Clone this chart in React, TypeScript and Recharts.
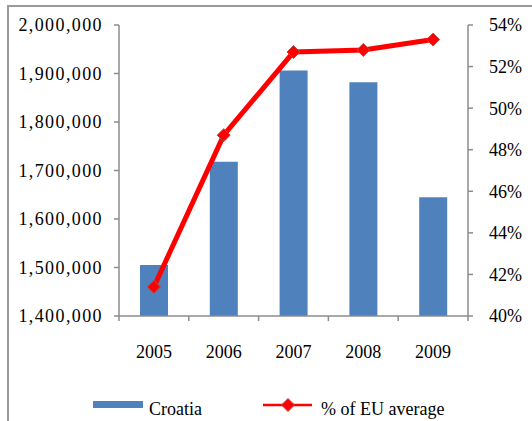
import { ComposedChart, Bar, Line, XAxis, YAxis, Legend } from "recharts";

const years = ["2005", "2006", "2007", "2008", "2009"];
const croatia = [1505000, 1718000, 1906000, 1882000, 1645000];
const euShare = [41.4, 48.7, 52.7, 52.8, 53.3];
const leftTicks = [1400000, 1500000, 1600000, 1700000, 1800000, 1900000, 2000000];
const rightTicks = [40, 42, 44, 46, 48, 50, 52, 54];

const data = years.map((year, i) => ({ year, croatia: croatia[i], share: euShare[i] }));

const W = 532;
const H = 421;
const LEFT_W = 119;
const RIGHT_W = 64;
const BAND = (W - LEFT_W - RIGHT_W) / years.length;
const FONT = "Liberation Serif, DejaVu Serif, serif";
const AXIS = "#8c8c8c";

const Diamond = (props: any) => {
  const { cx, cy } = props;
  if (cx == null || cy == null) return null;
  const r = 6.5;
  return (
    <polygon
      points={`${cx},${cy - r} ${cx + r},${cy} ${cx},${cy + r} ${cx - r},${cy}`}
      fill="#ff0000"
      stroke="#b94a48"
      strokeWidth={1}
    />
  );
};

const YearTick = (props: any) => {
  const { x, y, payload, index } = props;
  const top = y - 29;
  return (
    <g>
      <line x1={x - BAND / 2} x2={x - BAND / 2} y1={top} y2={top + 5} stroke={AXIS} strokeWidth={1.5} />
      {index === years.length - 1 && (
        <line x1={x + BAND / 2} x2={x + BAND / 2} y1={top} y2={top + 5} stroke={AXIS} strokeWidth={1.5} />
      )}
      <text x={x} y={y} dy="0.71em" textAnchor="middle" fill="#000" fontSize={18} style={{ fontFamily: FONT }}>
        {payload.value}
      </text>
    </g>
  );
};

const LegendBox = () => (
  <svg width={W} height={30} style={{ display: "block", fontFamily: FONT }}>
    <rect x={93} y={9} width={50} height={7} fill="#4f81bd" />
    <text x={149} y={23} fontSize={18} fill="#000">
      Croatia
    </text>
    <line x1={263} x2={312} y1={13} y2={13} stroke="#ff0000" strokeWidth={2.5} />
    <Diamond cx={288} cy={13} />
    <text x={321} y={23} fontSize={18} fill="#000">
      % of EU average
    </text>
  </svg>
);

const App = () => {
  const tickStyle = { fill: "#000", fontSize: 18, style: { fontFamily: FONT } };
  const leftTickStyle = { fill: "#000", fontSize: 18, style: { fontFamily: FONT, letterSpacing: "1.4px" } };
  return (
    <div
      style={{
        position: "absolute",
        left: 0,
        top: 0,
        width: W,
        height: H,
        background: "#fff",
        overflow: "hidden",
        fontFamily: FONT,
      }}
    >
      <div
        style={{
          position: "absolute",
          left: 7,
          top: 5,
          width: W - 7,
          height: H - 5,
          borderTop: "2px solid #9a9a9a",
          borderLeft: "2px solid #9a9a9a",
        }}
      />
      <div style={{ position: "absolute", left: 0, top: 0 }}>
        <ComposedChart
          width={W}
          height={H}
          data={data}
          margin={{ top: 25, right: 0, bottom: 75, left: 0 }}
          barSize={28}
          style={{ fontFamily: FONT }}
        >
          <XAxis
            dataKey="year"
            height={30}
            tickSize={5}
            tickMargin={24}
            tickLine={false}
            tick={<YearTick />}
            axisLine={{ stroke: AXIS, strokeWidth: 1.5 }}
          />
          <YAxis
            yAxisId="left"
            width={LEFT_W}
            domain={[1400000, 2000000]}
            ticks={leftTicks}
            tickFormatter={(v: number) => v.toLocaleString("en-US")}
            tick={leftTickStyle}
            tickSize={5}
            tickMargin={11}
            tickLine={{ stroke: AXIS, strokeWidth: 1.5 }}
            axisLine={{ stroke: AXIS, strokeWidth: 1.5 }}
            allowDataOverflow
          />
          <YAxis
            yAxisId="right"
            orientation="right"
            width={RIGHT_W}
            domain={[40, 54]}
            ticks={rightTicks}
            tickFormatter={(v: number) => `${v}%`}
            tick={tickStyle}
            tickSize={5}
            tickMargin={16}
            tickLine={{ stroke: AXIS, strokeWidth: 1.5 }}
            axisLine={{ stroke: AXIS, strokeWidth: 1.5 }}
          />
          <Bar yAxisId="left" dataKey="croatia" name="Croatia" fill="#4f81bd" isAnimationActive={false} />
          <Line
            yAxisId="right"
            dataKey="share"
            name="% of EU average"
            type="linear"
            stroke="#ff0000"
            strokeWidth={5}
            dot={<Diamond />}
            activeDot={false}
            isAnimationActive={false}
          />
          <Legend
            layout="horizontal"
            verticalAlign="middle"
            align="center"
            content={<LegendBox />}
            wrapperStyle={{ position: "absolute", top: 392, left: 0, width: W, height: 30 }}
          />
        </ComposedChart>
      </div>
    </div>
  );
};

export default App;
